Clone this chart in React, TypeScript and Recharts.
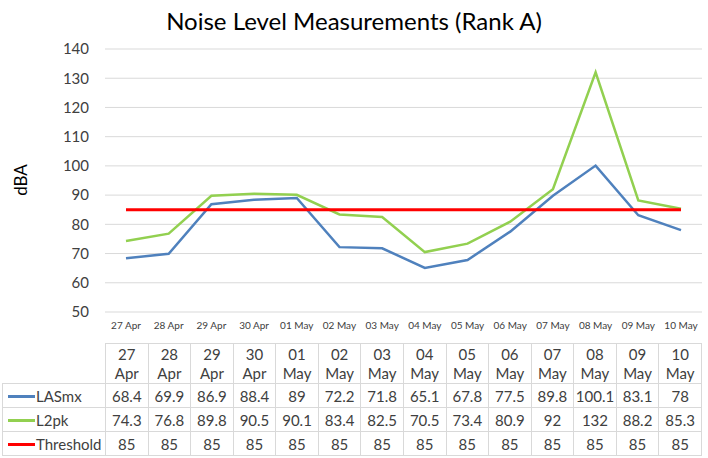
import React from 'react';
import { LineChart, Line, XAxis, YAxis, CartesianGrid } from 'recharts';

const days = ['27 Apr', '28 Apr', '29 Apr', '30 Apr', '01 May', '02 May', '03 May', '04 May', '05 May', '06 May', '07 May', '08 May', '09 May', '10 May'];
const lasmx = [68.4, 69.9, 86.9, 88.4, 89, 72.2, 71.8, 65.1, 67.8, 77.5, 89.8, 100.1, 83.1, 78];
const l2pk = [74.3, 76.8, 89.8, 90.5, 90.1, 83.4, 82.5, 70.5, 73.4, 80.9, 92, 132, 88.2, 85.3];
const threshold = [85, 85, 85, 85, 85, 85, 85, 85, 85, 85, 85, 85, 85, 85];
const yTicks = [50, 60, 70, 80, 90, 100, 110, 120, 130, 140];

const series = [
  { key: 'LASmx', values: lasmx, color: '#4f81bd', width: 2.5 },
  { key: 'L2pk', values: l2pk, color: '#92d050', width: 2.5 },
  { key: 'Threshold', values: threshold, color: '#ff0000', width: 3 },
];

const data = days.map((d, i) => ({
  name: d,
  LASmx: lasmx[i],
  L2pk: l2pk[i],
  Threshold: threshold[i],
}));

const font = 'Lato, "Open Sans", sans-serif';
const border = '1px solid #d9d9d9';
const textColor = '#404040';

const App: React.FC = () => {
  return (
    <div style={{ position: 'absolute', left: 0, top: 0, width: 708, height: 458, background: '#fff', fontFamily: font, overflow: 'hidden' }}>
      <div style={{ position: 'absolute', left: 0, top: 6, width: 708, textAlign: 'center', fontSize: 24, color: '#000' }}>
        Noise Level Measurements (Rank A)
      </div>
      <div style={{ position: 'absolute', left: 20, top: 180, transform: 'translate(-50%, -50%) rotate(-90deg)', fontSize: 17, color: '#000' }}>
        dBA
      </div>
      <LineChart width={708} height={340} data={data} margin={{ top: 49, right: 6, left: 0, bottom: 0 }}>
        <CartesianGrid vertical={false} stroke="#d9d9d9" />
        <XAxis
          dataKey="name"
          height={28}
          axisLine={false}
          tickLine={false}
          tickSize={0}
          tickMargin={10}
          interval={0}
          padding={{ left: 21, right: 21 }}
          tick={{ fill: textColor, fontSize: 10, fontFamily: font }}
        />
        <YAxis
          width={105}
          domain={[50, 140]}
          ticks={yTicks}
          axisLine={false}
          tickLine={false}
          tickSize={0}
          tickMargin={16}
          tick={{ fill: textColor, fontSize: 15, fontFamily: font }}
        />
        {series.map((s) => (
          <Line key={s.key} type="linear" dataKey={s.key} stroke={s.color} strokeWidth={s.width} dot={false} isAnimationActive={false} />
        ))}
      </LineChart>
      <table
        style={{
          position: 'absolute',
          left: 2,
          top: 343,
          width: 700,
          tableLayout: 'fixed',
          borderCollapse: 'collapse',
          fontSize: 15,
          color: textColor,
          fontFamily: font,
        }}
      >
        <colgroup>
          <col style={{ width: 103 }} />
          {days.map((d) => (
            <col key={d} />
          ))}
        </colgroup>
        <tbody>
          <tr style={{ height: 40 }}>
            <td style={{ padding: 0 }} />
            {days.map((d) => (
              <td key={d} style={{ border, textAlign: 'center', padding: 0, lineHeight: '19px' }}>
                {d.split(' ')[0]}
                <br />
                {d.split(' ')[1]}
              </td>
            ))}
          </tr>
          {series.map((s) => (
            <tr key={s.key} style={{ height: 24 }}>
              <td style={{ border, padding: 0, whiteSpace: 'nowrap' }}>
                <span style={{ display: 'inline-block', width: 27, height: 3, background: s.color, verticalAlign: 'middle', marginLeft: 5, marginRight: 1 }} />
                <span style={{ verticalAlign: 'middle' }}>{s.key}</span>
              </td>
              {s.values.map((v, i) => (
                <td key={i} style={{ border, textAlign: 'center', padding: 0 }}>
                  {v}
                </td>
              ))}
            </tr>
          ))}
        </tbody>
      </table>
    </div>
  );
};

export default App;
